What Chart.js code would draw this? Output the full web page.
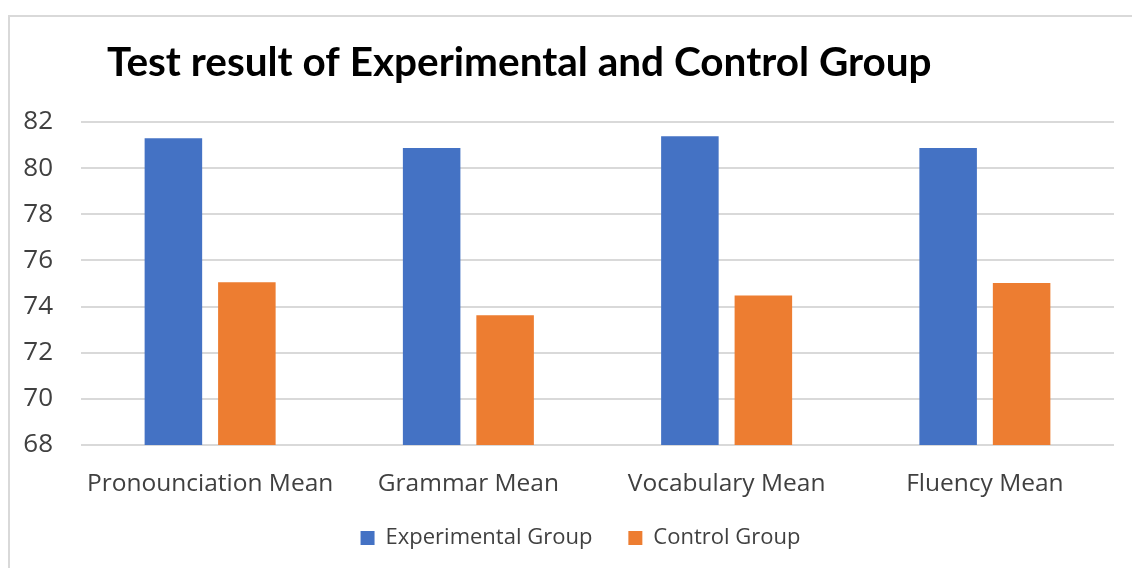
<!DOCTYPE html>
<html lang="en">
  <head>
    <meta charset="UTF-8" />
    <title>Test result of Experimental and Control Group</title>
    <script src="https://cdn.jsdelivr.net/npm/chart.js@4.4.1/dist/chart.umd.min.js"></script>
    <style>
      body {
        margin: 0;
        background-color: #fff;
      }
      .wrap {
        position: relative;
        width: 1132px;
        height: 568px;
        overflow: hidden;
      }
      .frame {
        position: absolute;
        left: 8px;
        top: 15px;
        width: 1140px;
        height: 600px;
        border-left: 2px solid #d9d9d9;
        border-top: 2px solid #d9d9d9;
      }
      canvas {
        position: absolute;
        left: 0;
        top: 0;
      }
    </style>
  </head>
  <body>
    <div class="wrap">
      <div class="frame"></div>
      <canvas id="chart" width="1132" height="568"></canvas>
    </div>

    <script>
      const chartTitle = "Test result of Experimental and Control Group";
      const categories = [
        "Pronounciation Mean",
        "Grammar Mean",
        "Vocabulary Mean",
        "Fluency Mean",
      ];
      const experimental = [81.3, 80.87, 81.38, 80.87];
      const control = [75.05, 73.62, 74.48, 75.02];

      const textColor = "#404040";
      const font = "'Open Sans', 'Noto Sans', sans-serif";

      // title drawn a little right of the plot's left edge, as in the original
      const titlePlugin = {
        id: "offsetTitle",
        afterDraw(chart) {
          const ctx = chart.ctx;
          ctx.save();
          ctx.fillStyle = "#000";
          ctx.font = "bold 40.5px Lato, 'Open Sans', sans-serif";
          ctx.textBaseline = "middle";
          ctx.fillText(chartTitle, chart.chartArea.left + 26, 63);
          ctx.restore();
        },
      };

      // legend sits a bit right of the canvas centre and tight under the labels
      const legendNudge = {
        id: "legendNudge",
        afterLayout(chart) {
          const lg = chart.legend;
          lg.left += 12;
          lg.right += 12;
          lg.top -= 7;
          lg.bottom -= 7;
        },
      };

      new Chart(document.getElementById("chart"), {
        type: "bar",
        data: {
          labels: categories,
          datasets: [
            {
              label: "Experimental Group",
              data: experimental,
              backgroundColor: "#4472C4",
              categoryPercentage: 0.569,
              barPercentage: 0.783,
            },
            {
              label: "Control Group",
              data: control,
              backgroundColor: "#ED7D31",
              categoryPercentage: 0.569,
              barPercentage: 0.783,
            },
          ],
        },
        options: {
          responsive: false,
          animation: false,
          layout: {
            padding: { top: 122, right: 18, left: 23, bottom: 2 },
          },
          scales: {
            x: {
              grid: { display: false, drawTicks: false },
              border: { display: false },
              ticks: {
                color: textColor,
                padding: 24,
                maxRotation: 0,
                minRotation: 0,
                autoSkip: false,
                font: { family: font, size: 24.5 },
              },
              // keep the plot wide and the legend close under the labels
              afterFit(scale) {
                scale.paddingLeft = 0;
                scale.paddingRight = 0;
                scale.height = 53;
              },
            },
            y: {
              min: 68,
              max: 82,
              ticks: {
                stepSize: 2,
                color: textColor,
                padding: 28,
                font: { family: font, size: 26 },
              },
              grid: { color: "#d9d9d9", lineWidth: 2, drawTicks: false },
              border: { display: false },
              afterFit(scale) {
                scale.width = 58;
              },
            },
          },
          plugins: {
            legend: {
              position: "bottom",
              labels: {
                color: textColor,
                boxWidth: 14,
                boxHeight: 14,
                padding: 36,
                font: { family: font, size: 22 },
              },
            },
            tooltip: { enabled: false },
          },
        },
        plugins: [titlePlugin, legendNudge],
      });
    </script>
  </body>
</html>
